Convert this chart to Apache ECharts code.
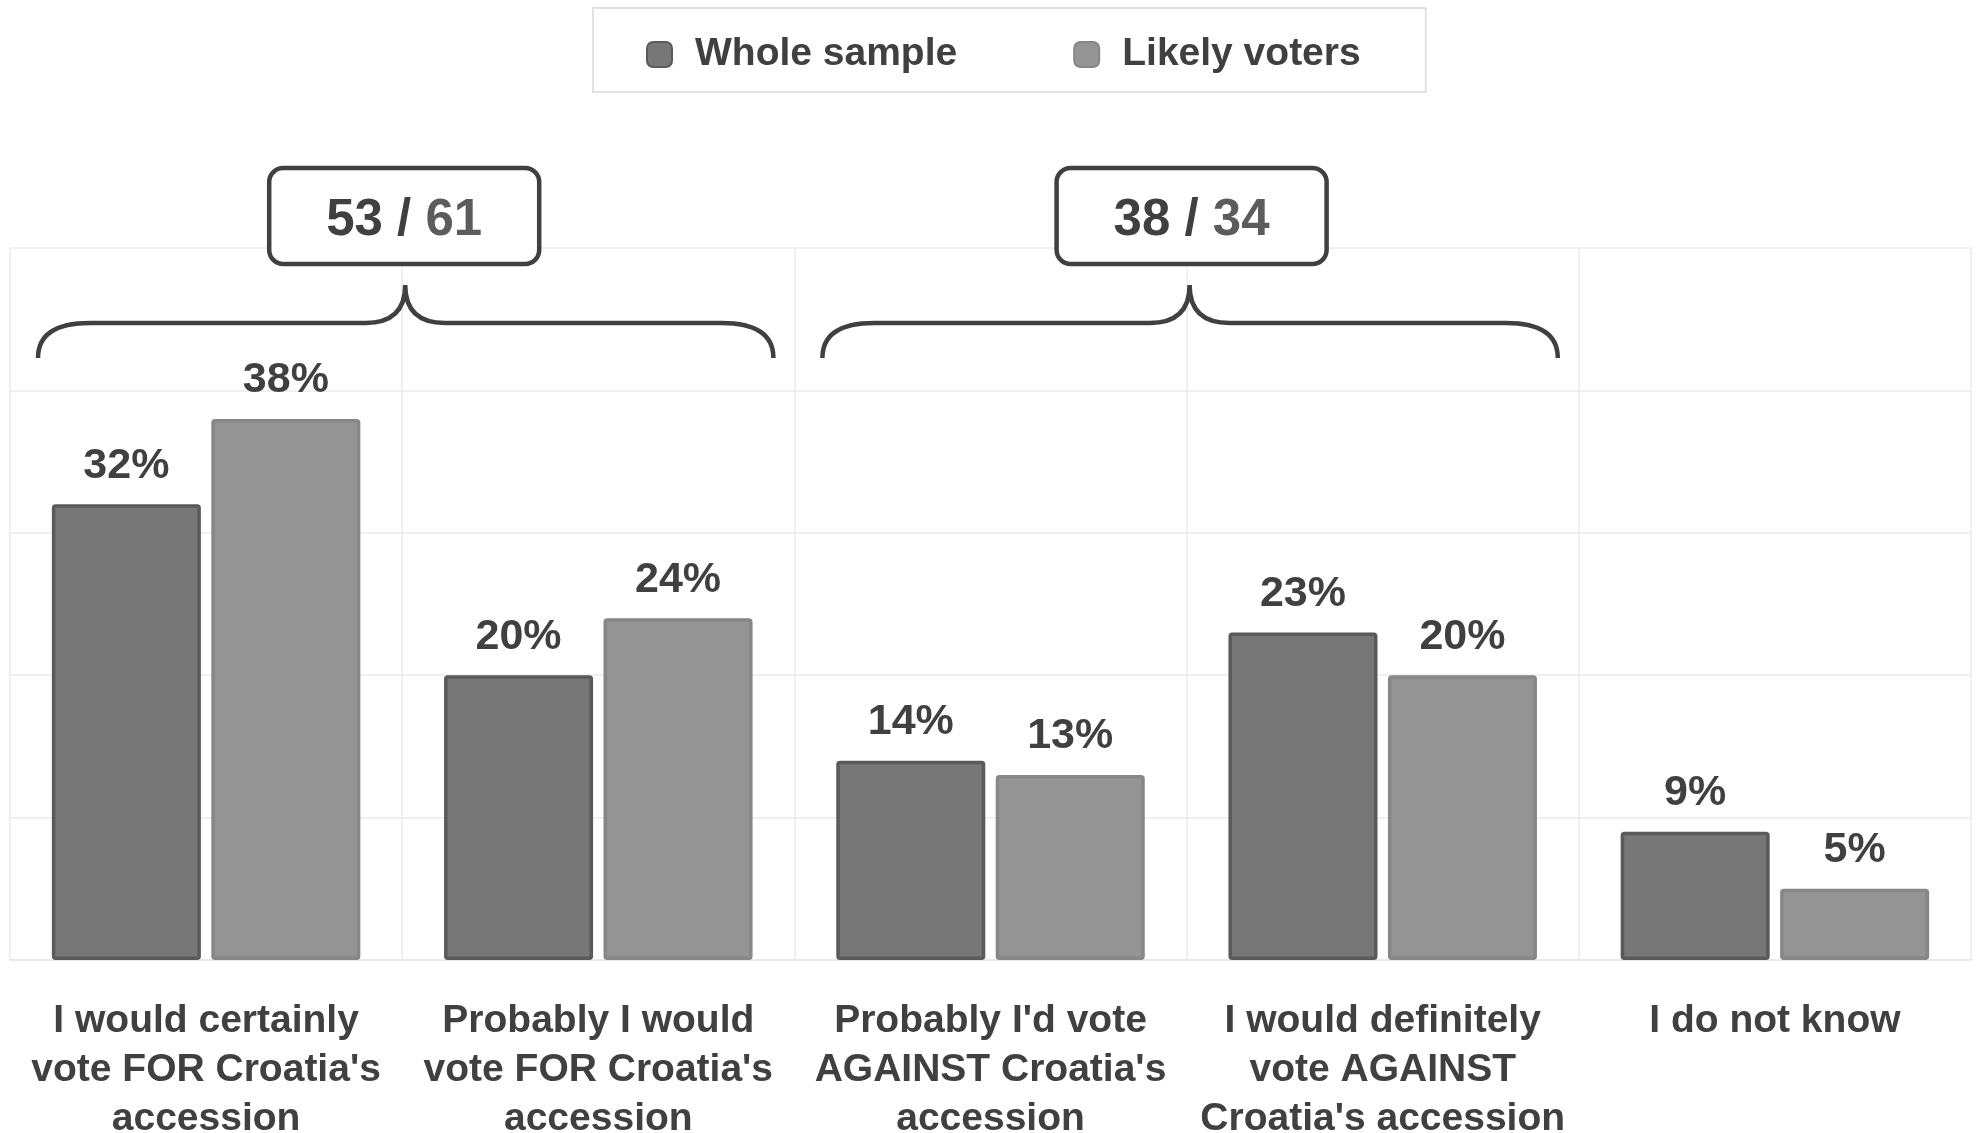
<!DOCTYPE html>
<html><head><meta charset="utf-8">
<script src="https://cdn.jsdelivr.net/npm/echarts@6/dist/echarts.min.js"></script>
<style>html,body{margin:0;padding:0;background:#fff}#c{width:1981px;height:1133px}</style>
</head><body><div id="c"></div>
<script>
const categories = [
  "I would certainly\nvote FOR Croatia's\naccession",
  "Probably I would\nvote FOR Croatia's\naccession",
  "Probably I'd vote\nAGAINST Croatia's\naccession",
  "I would definitely\nvote AGAINST\nCroatia's accession",
  "I do not know"
];
const seriesNames = ['Whole sample', 'Likely voters'];
const wholeSample = [32, 20, 14, 23, 9];
const likelyVoters = [38, 24, 13, 20, 5];
const groupStart = [0, 2];
const groupEnd = [1, 3];
const groupWhole = [53, 38];
const groupLikely = [61, 34];

const FONT = "'Liberation Sans', Arial, sans-serif";
const TXT = '#404040';
const groupData = groupStart.map((s, i) => [s, groupEnd[i], groupWhole[i], groupLikely[i]]);

function renderGroup(params, api) {
  const s = api.value(0), e = api.value(1);
  const w = api.size([1, 0])[0];
  const ps = api.coord([s, 50]);
  const pe = api.coord([e, 50]);
  const top = ps[1];
  const xL = ps[0] - w / 2 + 28;
  const xR = pe[0] + w / 2 - 21;
  const xM = (ps[0] + pe[0]) / 2 + 3;
  const yEnd = top + 110, yH = top + 75, yTip = top + 37;
  const rx = 52, tx = 40;
  const path = 'M' + xL + ',' + yEnd + ' Q' + xL + ',' + yH + ' ' + (xL + rx) + ',' + yH +
    ' L' + (xM - tx) + ',' + yH + ' Q' + xM + ',' + yH + ' ' + xM + ',' + yTip +
    ' Q' + xM + ',' + yH + ' ' + (xM + tx) + ',' + yH +
    ' L' + (xR - rx) + ',' + yH + ' Q' + xR + ',' + yH + ' ' + xR + ',' + yEnd;
  const bx = xM - 136 + params.dataIndex * 3;
  return {
    type: 'group',
    children: [
      { type: 'path', shape: { pathData: path }, style: { fill: 'none', stroke: TXT, lineWidth: 4.5 } },
      { type: 'rect', shape: { x: bx, y: top - 80, width: 270, height: 96, r: 14 },
        style: { fill: '#fff', stroke: TXT, lineWidth: 4.5 } },
      { type: 'text', x: bx + 135, y: top - 27,
        style: {
          text: '{a|' + api.value(2) + ' / }{b|' + api.value(3) + '}',
          align: 'center', verticalAlign: 'middle',
          rich: {
            a: { fontSize: 51, fontWeight: 'bold', fontFamily: FONT, fill: TXT, color: TXT },
            b: { fontSize: 51, fontWeight: 'bold', fontFamily: FONT, fill: '#5c5c5c', color: '#5c5c5c' }
          }
        } }
    ]
  };
}

const chart = echarts.init(document.getElementById('c'), null, { renderer: 'canvas' });
const labelStyle = { show: true, position: 'top', distance: 17, formatter: '{c}%',
  fontSize: 43, fontWeight: 'bold', color: TXT, fontFamily: FONT };
chart.setOption({
  animation: false,
  backgroundColor: '#fff',
  textStyle: { fontFamily: FONT },
  legend: {
    data: seriesNames,
    top: 8, left: 593,
    padding: [27, 65, 18, 53],
    borderColor: '#d9d9d9', borderWidth: 1.5,
    itemWidth: 25, itemHeight: 25, itemGap: 116,
    icon: 'roundRect',
    textStyle: { fontSize: 39, fontWeight: 'bold', color: TXT, fontFamily: FONT, padding: [0, 0, 0, 18] }
  },
  grid: { left: 10, right: 10, top: 248, bottom: 173, containLabel: false, outerBoundsMode: 'none' },
  xAxis: {
    type: 'category', data: categories,
    axisLine: { show: true, lineStyle: { color: '#e6e6e6', width: 1.5 } },
    axisTick: { show: false },
    splitLine: { show: true, lineStyle: { color: '#ebebeb', width: 1.5 } },
    axisLabel: { interval: 0, margin: 37, fontSize: 39, fontWeight: 'bold', color: TXT,
      fontFamily: FONT, lineHeight: 49, align: 'center' }
  },
  yAxis: {
    type: 'value', min: 0, max: 50, interval: 10,
    axisLabel: { show: false }, axisLine: { show: false }, axisTick: { show: false },
    splitLine: { show: true, lineStyle: { color: '#ebebeb', width: 1.5 } }
  },
  series: [
    { name: seriesNames[0], type: 'bar', data: wholeSample, barWidth: '38%', barGap: '7%',
      itemStyle: { color: '#777777', borderColor: '#5a5a5a', borderWidth: 3.5, borderRadius: 2 },
      label: labelStyle },
    { name: seriesNames[1], type: 'bar', data: likelyVoters, barWidth: '38%', barGap: '7%',
      itemStyle: { color: '#949494', borderColor: '#878787', borderWidth: 3.5, borderRadius: 2 },
      label: labelStyle },
    { name: 'groups', type: 'custom', data: groupData, clip: false, z: 10,
      encode: { x: [0, 1], y: [2, 3] }, renderItem: renderGroup, silent: true }
  ]
});
</script></body></html>
